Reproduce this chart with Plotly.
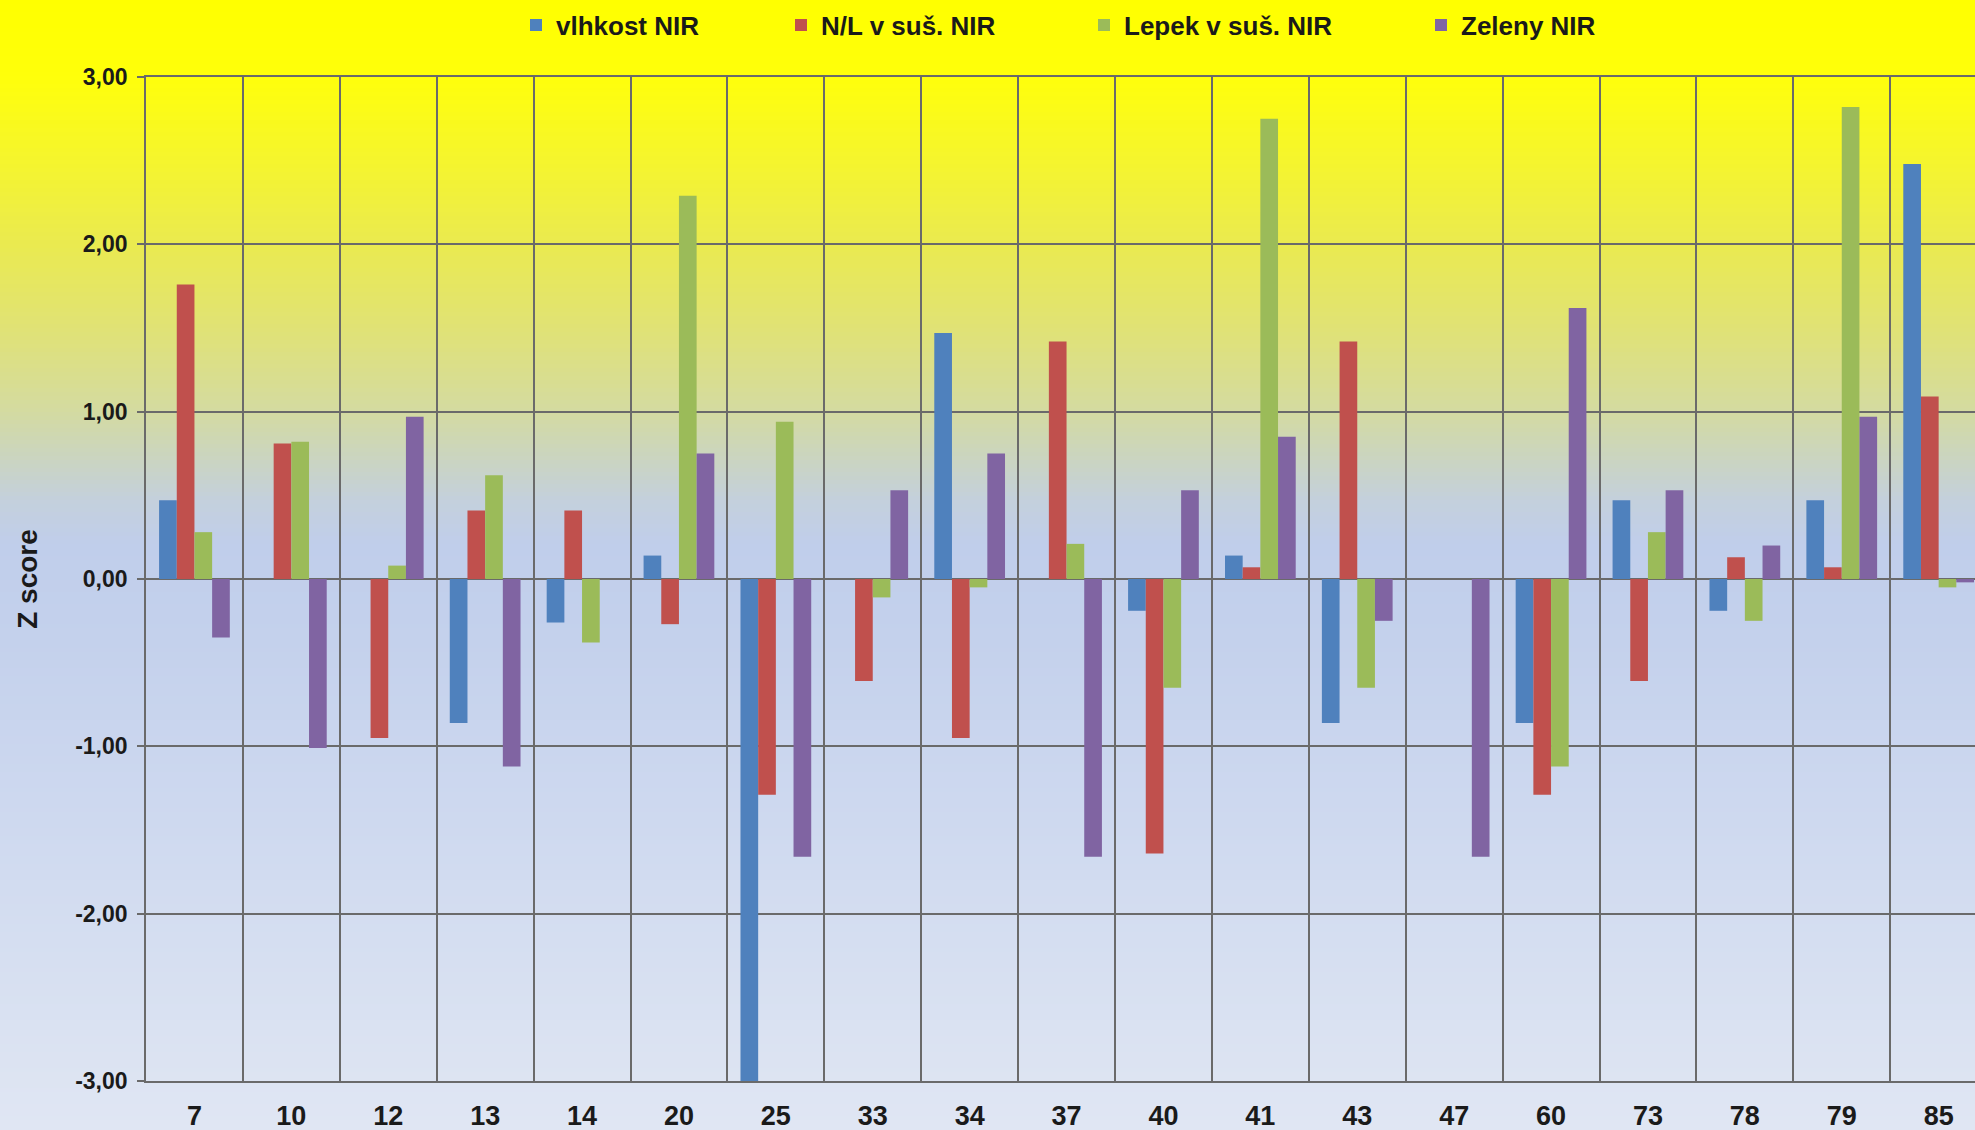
import plotly.graph_objects as go

# ---------------- data ----------------
categories = ["7", "10", "12", "13", "14", "20", "25", "33", "34", "37",
              "40", "41", "43", "47", "60", "73", "78", "79", "85"]

vlhkost = [0.47, 0.00, 0.00, -0.86, -0.26, 0.14, -3.10, 0.00, 1.47, 0.00,
           -0.19, 0.14, -0.86, 0.00, -0.86, 0.47, -0.19, 0.47, 2.48]
nl_sus = [1.76, 0.81, -0.95, 0.41, 0.41, -0.27, -1.29, -0.61, -0.95, 1.42,
          -1.64, 0.07, 1.42, 0.00, -1.29, -0.61, 0.13, 0.07, 1.09]
lepek_sus = [0.28, 0.82, 0.08, 0.62, -0.38, 2.29, 0.94, -0.11, -0.05, 0.21,
             -0.65, 2.75, -0.65, 0.00, -1.12, 0.28, -0.25, 2.82, -0.05]
zeleny = [-0.35, -1.01, 0.97, -1.12, 0.00, 0.75, -1.66, 0.53, 0.75, -1.66,
          0.53, 0.85, -0.25, -1.66, 1.62, 0.53, 0.20, 0.97, -0.02]

series_names = ["vlhkost NIR", "N/L v suš. NIR", "Lepek v suš. NIR", "Zeleny NIR"]
series_values = [vlhkost, nl_sus, lepek_sus, zeleny]
series_colors = ["#4F81BD", "#C0504D", "#9BBB59", "#8064A2"]

y_tick_vals = [-3, -2, -1, 0, 1, 2, 3]
y_tick_labels = ["-3,00", "-2,00", "-1,00", "0,00", "1,00", "2,00", "3,00"]
y_title = "Z score"

# ---------------- geometry ----------------
W, H = 1975, 1130
ML, MR, MT, MB = 146, 0, 77, 49
PW, PH = W - ML - MR, H - MT - MB


def px_to_paper_y(py):
    return (H - MB - py) / PH


def px_to_paper_x(px):
    return (px - ML) / PW


# background gradient stops (pixel y from top, colour)
grad_stops = [
    (0, (255, 255, 0)),
    (75, (255, 255, 10)),
    (160, (245, 245, 45)),
    (245, (234, 234, 80)),
    (330, (224, 226, 118)),
    (410, (212, 219, 160)),
    (455, (203, 213, 190)),
    (500, (196, 208, 220)),
    (545, (192, 206, 235)),
    (640, (196, 209, 236)),
    (800, (205, 216, 239)),
    (960, (214, 223, 241)),
    (1130, (224, 230, 243)),
]


def grad_color(py):
    for (y0, c0), (y1, c1) in zip(grad_stops[:-1], grad_stops[1:]):
        if y0 <= py <= y1:
            t = (py - y0) / (y1 - y0) if y1 > y0 else 0
            c = [round(a + (b - a) * t) for a, b in zip(c0, c1)]
            return "rgb(%d,%d,%d)" % tuple(c)
    return "rgb(%d,%d,%d)" % grad_stops[-1][1]


shapes = []
step = 4
for py in range(0, H, step):
    shapes.append(dict(
        type="rect", xref="paper", yref="paper", layer="below",
        x0=px_to_paper_x(-2), x1=px_to_paper_x(W + 2),
        y0=px_to_paper_y(py + step + 0.5), y1=px_to_paper_y(py),
        fillcolor=grad_color(py + step / 2), line=dict(width=0),
    ))

fig = go.Figure()

legend_names = ["legend", "legend2", "legend3", "legend4"]
legend_px = [516, 781, 1084, 1421]

for name, vals, col, lg in zip(series_names, series_values, series_colors, legend_names):
    fig.add_trace(go.Bar(
        x=categories, y=vals, name=name,
        marker=dict(color=col, line=dict(width=0)),
        legend=lg,
    ))

font_family = "Liberation Sans, Arial, sans-serif"
grid_col = "#6a6a6a"

legend_common = dict(
    orientation="h", yanchor="middle", xanchor="left",
    y=px_to_paper_y(25), bgcolor="rgba(0,0,0,0)", borderwidth=0,
    font=dict(family=font_family, size=26, color="#1a1a1a", weight="bold"),
)

layout_legends = {}
for lg, lx in zip(legend_names, legend_px):
    d = dict(legend_common)
    d["x"] = px_to_paper_x(lx)
    layout_legends[lg] = d

fig.update_layout(
    width=W, height=H,
    margin=dict(l=ML, r=MR, t=MT, b=MB, autoexpand=False),
    paper_bgcolor="#E0E6F3",
    plot_bgcolor="rgba(0,0,0,0)",
    barmode="group", bargap=0.27, bargroupgap=0.0,
    shapes=shapes,
    showlegend=True,
    font=dict(family=font_family, color="#1a1a1a"),
    **layout_legends,
)

fig.update_xaxes(
    type="category",
    range=[-0.5, -0.5 + PW / 96.9],
    tickson="boundaries",
    showgrid=True, gridcolor=grid_col, gridwidth=1.6,
    showline=True, linecolor=grid_col, linewidth=1.6, mirror=True,
    ticks="", ticklabelstandoff=10,
    tickfont=dict(family=font_family, size=27, color="#1a1a1a", weight="bold"),
    fixedrange=True,
)

fig.update_yaxes(
    range=[-3, 3],
    tickvals=y_tick_vals, ticktext=y_tick_labels,
    showgrid=True, gridcolor=grid_col, gridwidth=1.6,
    zeroline=True, zerolinecolor=grid_col, zerolinewidth=1.6,
    showline=True, linecolor=grid_col, linewidth=1.6,
    ticks="outside", ticklen=7, tickcolor=grid_col, tickwidth=1.6,
    ticklabelstandoff=5,
    tickfont=dict(family=font_family, size=23, color="#1a1a1a", weight="bold"),
    title=dict(text=y_title, standoff=29,
               font=dict(family=font_family, size=28, color="#1a1a1a", weight="bold")),
    fixedrange=True,
)

fig.write_html(
    "out.html",
    config={"displayModeBar": False},
    post_script="document.body.style.margin='0';document.body.style.overflow='hidden';",
)
